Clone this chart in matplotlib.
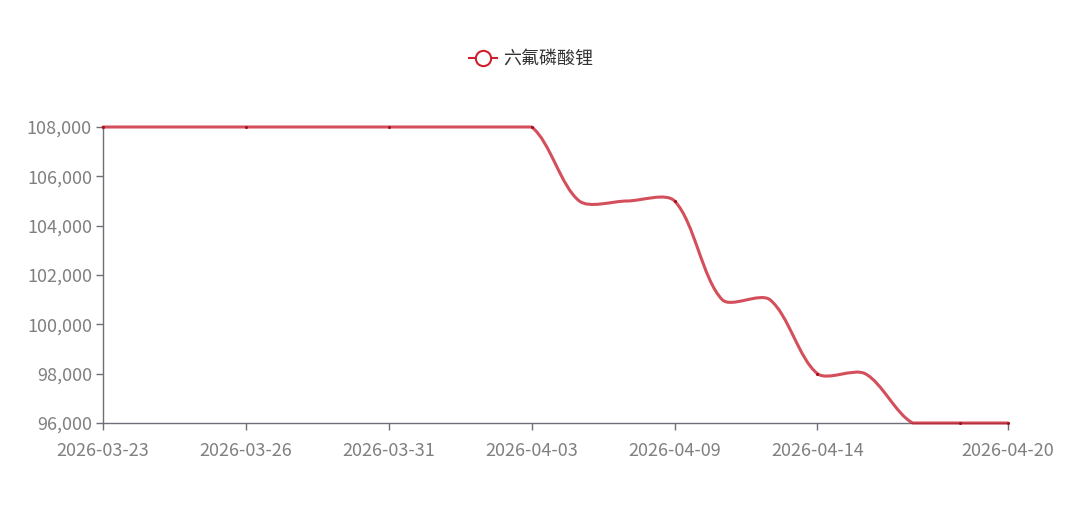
import matplotlib
matplotlib.use("Agg")
import matplotlib.pyplot as plt
from matplotlib.path import Path
from matplotlib.patches import PathPatch
from matplotlib.lines import Line2D
from matplotlib.ticker import FuncFormatter
import numpy as np

plt.rcParams['font.family'] = ['Noto Sans CJK SC', 'DejaVu Sans']

dates = ["2026-03-23", "2026-03-24", "2026-03-25", "2026-03-26", "2026-03-27",
         "2026-03-30", "2026-03-31", "2026-04-01", "2026-04-02", "2026-04-03",
         "2026-04-07", "2026-04-08", "2026-04-09", "2026-04-10", "2026-04-13",
         "2026-04-14", "2026-04-15", "2026-04-16", "2026-04-17", "2026-04-20"]
prices = [108000, 108000, 108000, 108000, 108000,
          108000, 108000, 108000, 108000, 108000,
          105000, 105000, 105000, 101000, 101000,
          98000, 98000, 96000, 96000, 96000]
series_name = "六氟磷酸锂"
label_idx = [0, 3, 6, 9, 12, 15, 19]
symbol_idx = [0, 3, 6, 9, 12, 15, 18, 19]
y_ticks = [96000, 98000, 100000, 102000, 104000, 106000, 108000]

W, H = 1080, 515
fig = plt.figure(figsize=(W / 100, H / 100), dpi=100)
ax = fig.add_axes([103 / W, (H - 423) / H, (1008 - 103) / W, (423 - 127) / H])

x = np.arange(len(dates), dtype=float)
y = np.array(prices, dtype=float)
ax.set_xlim(0, len(dates) - 1)
ax.set_ylim(96000, 108000)

# ECharts-like smooth bezier (bounding-box constraint), computed in pixel space
sx = 905.0 / (len(dates) - 1)
sy = 296.0 / 12000.0
px, py = x * sx, y * sy
smooth = 0.3
n = len(px)
xmin, xmax, ymin, ymax = px.min(), px.max(), py.min(), py.max()
cps_out, cps_in = [], []
for i in range(n):
    pi_ = max(i - 1, 0)
    ni = min(i + 1, n - 1)
    vx, vy = (px[ni] - px[pi_]) * smooth, (py[ni] - py[pi_]) * smooth
    d0 = np.hypot(px[i] - px[pi_], py[i] - py[pi_])
    d1 = np.hypot(px[ni] - px[i], py[ni] - py[i])
    s = d0 + d1
    if s > 0:
        d0, d1 = d0 / s, d1 / s
    c_in = (np.clip(px[i] - vx * d0, xmin, xmax), np.clip(py[i] - vy * d0, ymin, ymax))
    c_out = (np.clip(px[i] + vx * d1, xmin, xmax), np.clip(py[i] + vy * d1, ymin, ymax))
    cps_in.append(c_in)
    cps_out.append(c_out)
verts = [(x[0], y[0])]
codes = [Path.MOVETO]
for i in range(n - 1):
    c1 = cps_out[i]
    c2 = cps_in[i + 1]
    verts += [(c1[0] / sx, c1[1] / sy), (c2[0] / sx, c2[1] / sy), (x[i + 1], y[i + 1])]
    codes += [Path.CURVE4] * 3
patch = PathPatch(Path(verts, codes), facecolor='none', edgecolor='#c81e2e',
                  lw=2.2, alpha=0.78, zorder=3, capstyle='round', joinstyle='round',
                  clip_on=False)
ax.add_patch(patch)
ax.plot(x[symbol_idx], y[symbol_idx], 'o', ms=2.2, color='#a50f1c', zorder=4,
        markeredgewidth=0, clip_on=False)

ax.set_xticks(label_idx)
ax.set_xticklabels([dates[i] for i in label_idx])
ax.set_yticks(y_ticks)
ax.yaxis.set_major_formatter(FuncFormatter(lambda v, p: f"{int(v):,}"))

for s in ['top', 'right']:
    ax.spines[s].set_visible(False)
for s in ['left', 'bottom']:
    ax.spines[s].set_color('#6e7079')
    ax.spines[s].set_linewidth(1.0)
ax.tick_params(axis='both', colors='#6e7079', labelcolor='#808080',
               labelsize=13, length=5, width=1.0, direction='out')
ax.tick_params(axis='x', pad=9)
ax.tick_params(axis='y', pad=3)

handle = Line2D([], [], color='#d0202e', lw=1.5, marker='o', ms=11,
                markerfacecolor='white', markeredgecolor='#d0202e', markeredgewidth=1.5)
fig.legend([handle], [series_name], loc='center', bbox_to_anchor=(531 / W, 1 - 59 / H),
           frameon=False, fontsize=13, handlelength=1.55, handletextpad=0.35,
           labelcolor='#333333')

fig.savefig("out.png", dpi=100)
